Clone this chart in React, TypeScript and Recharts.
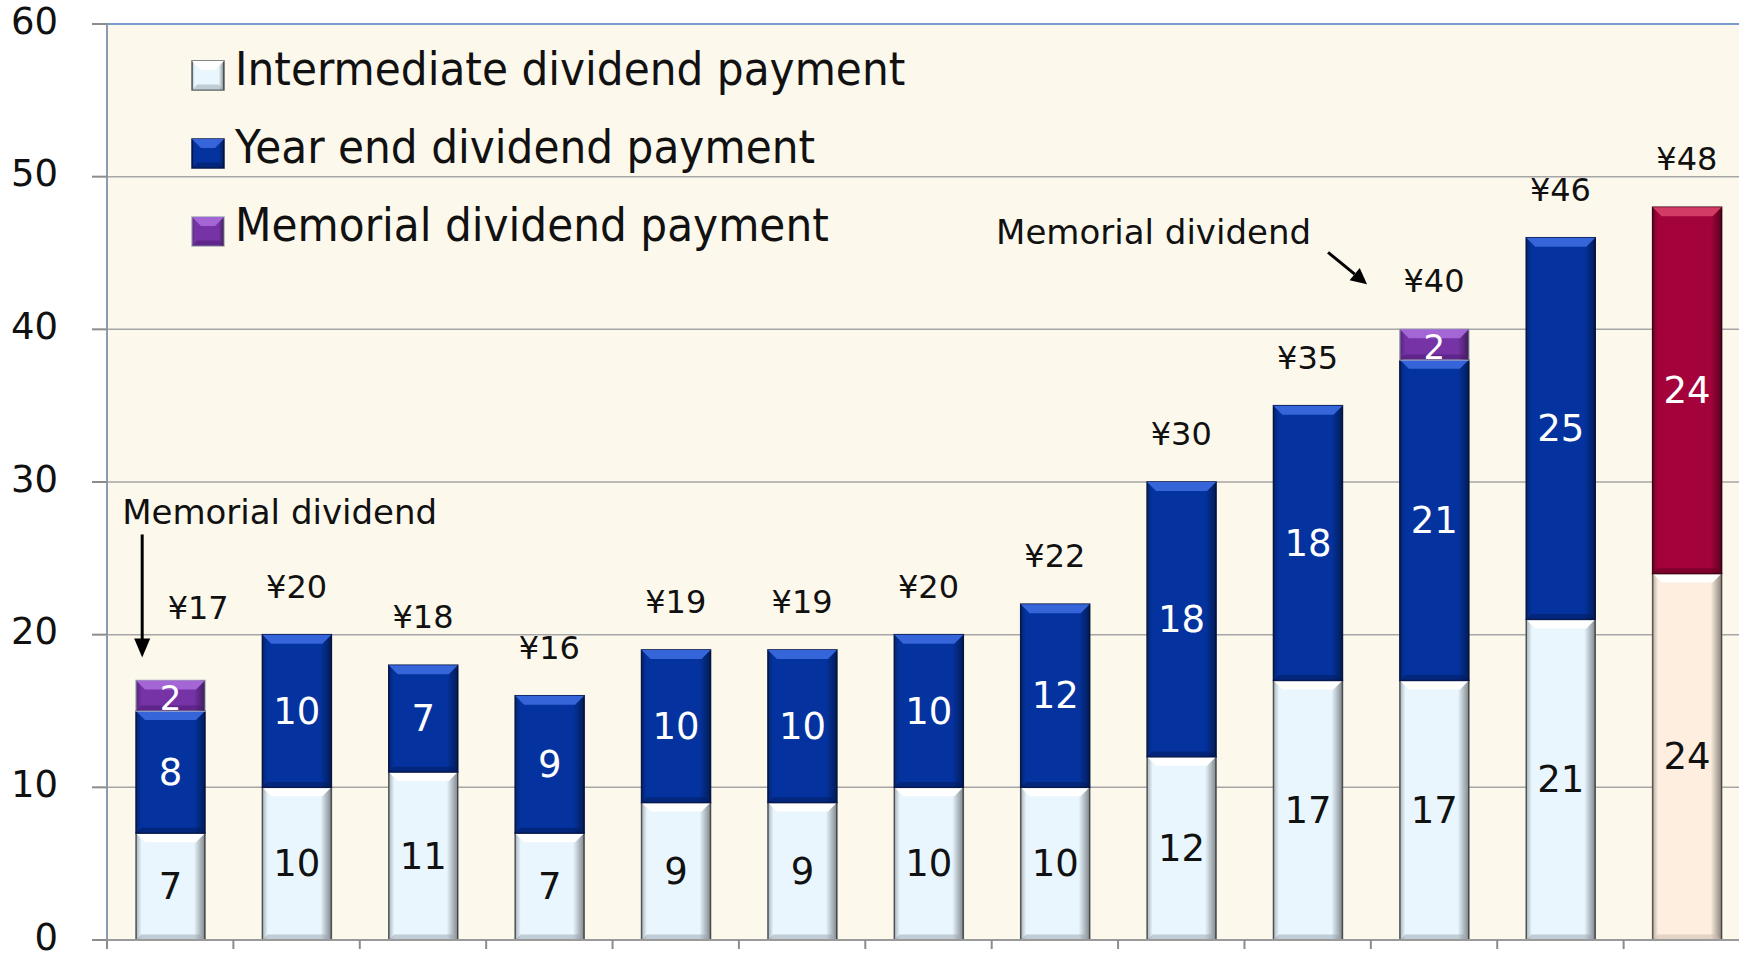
import {
  BarChart,
  Bar,
  XAxis,
  YAxis,
  CartesianGrid,
  LabelList,
  Legend,
  ReferenceDot,
  ReferenceLine,
} from "recharts";

const fiscalYears = [
  "FY2005", "FY2006", "FY2007", "FY2008", "FY2009", "FY2010", "FY2011",
  "FY2012", "FY2013", "FY2014", "FY2015", "FY2016", "FY2017",
];
const intermediateDividend = [7, 10, 11, 7, 9, 9, 10, 10, 12, 17, 17, 21, 24];
const yearEndDividend = [8, 10, 7, 9, 10, 10, 10, 12, 18, 18, 21, 25, 24];
const memorialDividend = [2, 0, 0, 0, 0, 0, 0, 0, 0, 0, 2, 0, 0];
const forecastYears = ["FY2017"];
const yTicks = [0, 10, 20, 30, 40, 50, 60];
const legendLabels = [
  "Intermediate dividend payment",
  "Year end dividend payment",
  "Memorial dividend payment",
];
const memorialNote = "Memorial dividend";
const downNoteYear = "FY2005";
const diagonalNoteYear = "FY2015";

const data = fiscalYears.map((fy, i) => ({
  fy,
  intermediate: intermediateDividend[i],
  yearEnd: yearEndDividend[i],
  memorial: memorialDividend[i],
  total: intermediateDividend[i] + yearEndDividend[i] + memorialDividend[i],
}));

const FONT = "'DejaVu Sans', Verdana, sans-serif";

const palettes: Record<string, { base: string; edge: string; hi: string; lo: string }> = {
  intermediate: { base: "#E9F6FE", edge: "#5c6166", hi: "#ffffff", lo: "#9aa4ad" },
  yearEnd: { base: "#04339F", edge: "#0a1a4c", hi: "#3565d8", lo: "#021a5c" },
  memorial: { base: "#7533A6", edge: "#a4adbf", hi: "#a466d4", lo: "#4b176f" },
  fcIntermediate: { base: "#FDEEE0", edge: "#66605b", hi: "#ffffff", lo: "#c9b9aa" },
  fcYearEnd: { base: "#A3033A", edge: "#420718", hi: "#d23b64", lo: "#5c0020" },
};

function pickPalette(kind: string, fy: string) {
  if (forecastYears.includes(fy)) {
    if (kind === "intermediate") return palettes.fcIntermediate;
    if (kind === "yearEnd") return palettes.fcYearEnd;
  }
  return palettes[kind];
}

function BevelRect({ x, y, w, h, p }: any) {
  const b = Math.min(9, h / 3);
  return (
    <g>
      <rect x={x} y={y} width={w} height={h} fill={p.base} stroke={p.edge} strokeWidth={1.5} />
      <rect x={x} y={y} width={w} height={h} fill="url(#sideShade)" />
      <polygon
        points={`${x},${y} ${x + w},${y} ${x + w - b},${y + b} ${x + b},${y + b}`}
        fill={p.hi}
      />
      <polygon
        points={`${x},${y + h} ${x + w},${y + h} ${x + w - b * 0.6},${y + h - b * 0.6} ${x + b * 0.6},${y + h - b * 0.6}`}
        fill={p.lo}
        opacity={0.5}
      />
    </g>
  );
}

function makeShape(kind: string) {
  return (props: any) => {
    const { x, y, width, height } = props;
    if (!height || height <= 0.5) return null;
    const fy = props.payload?.fy ?? props.fy;
    return <BevelRect x={x} y={y} w={width} h={height} p={pickPalette(kind, fy)} />;
  };
}

function segmentLabel(color: string, size: number, dy = 0) {
  return (props: any) => {
    const { x, y, width, height, value } = props;
    if (!value) return null;
    return (
      <text
        x={x + width / 2}
        y={y + height / 2 + dy}
        textAnchor="middle"
        dominantBaseline="central"
        fontFamily={FONT}
        fontSize={size}
        fill={color}
      >
        {value}
      </text>
    );
  };
}

const TotalLabel = (props: any) => {
  const { cx, cy, value, shiftX = 0, lift = 48 } = props;
  return (
    <text
      x={cx + shiftX}
      y={cy - lift}
      textAnchor="middle"
      dominantBaseline="central"
      fontFamily={FONT}
      fontSize={32}
      fill="#111"
    >
      {`¥${value}`}
    </text>
  );
};

const NoteDown = (props: any) => {
  const { cx, cy } = props;
  const ax = cx - 28;
  return (
    <g>
      <text x={cx - 48} y={cy - 168} dominantBaseline="central" fontFamily={FONT} fontSize={34} fill="#111">
        {memorialNote}
      </text>
      <line x1={ax} y1={cy - 146} x2={ax} y2={cy - 40} stroke="#000" strokeWidth={3} />
      <polygon points={`${ax - 8},${cy - 42} ${ax + 8},${cy - 42} ${ax},${cy - 23}`} fill="#000" />
    </g>
  );
};

const NoteDiagonal = (props: any) => {
  const { cx, cy } = props;
  const x1 = cx - 106, y1 = cy - 77, x2 = cx - 67, y2 = cy - 45;
  const ang = Math.atan2(y2 - y1, x2 - x1);
  const bx = x2 - 16 * Math.cos(ang), by = y2 - 16 * Math.sin(ang);
  const nx = -Math.sin(ang) * 8, ny = Math.cos(ang) * 8;
  return (
    <g>
      <text x={cx - 123} y={cy - 97} textAnchor="end" dominantBaseline="central" fontFamily={FONT} fontSize={34} fill="#111">
        {memorialNote}
      </text>
      <line x1={x1} y1={y1} x2={bx} y2={by} stroke="#000" strokeWidth={3} />
      <polygon points={`${bx + nx},${by + ny} ${bx - nx},${by - ny} ${x2},${y2}`} fill="#000" />
    </g>
  );
};

const BoundaryTick = (props: any) => {
  const { x, y, payload } = props;
  const half = payload?.offset ?? 63.2;
  return <line x1={x - half} x2={x - half} y1={y} y2={y + 9} stroke="#8c8c8c" strokeWidth={2} />;
};

const ValueTick = (props: any) => {
  const { x, y, payload } = props;
  return (
    <text x={x} y={y - 3} textAnchor="end" dominantBaseline="central" fontFamily={FONT} fontSize={37} fill="#111">
      {payload.value}
    </text>
  );
};

const legendKinds = ["intermediate", "yearEnd", "memorial"];

const LegendBox = () => (
  <svg width={960} height={260} style={{ display: "block" }}>
    {legendLabels.map((label, i) => {
      const cy = 69 + i * 78;
      const p = palettes[legendKinds[i]];
      return (
        <g key={label}>
          <BevelRect x={192} y={cy - 8} w={32} h={29} p={p} />
          <g transform={`translate(235,0) scale(0.92,1)`}>
            <text x={0} y={cy} dominantBaseline="central" fontFamily={FONT} fontSize={46} fill="#111">
              {label}
            </text>
          </g>
        </g>
      );
    })}
  </svg>
);

export default function App() {
  return (
    <div
      style={{
        position: "absolute",
        left: 0,
        top: 0,
        width: 1739,
        height: 953,
        overflow: "hidden",
        background: "#ffffff",
      }}
    >
      <BarChart
        width={1750}
        height={953}
        data={data}
        margin={{ top: 24, right: 0, bottom: 0, left: 0 }}
        barSize={69}
      >
        <defs>
          <linearGradient id="sideShade" x1="0" y1="0" x2="1" y2="0">
            <stop offset="0" stopColor="#000" stopOpacity={0.28} />
            <stop offset="0.08" stopColor="#000" stopOpacity={0} />
            <stop offset="0.84" stopColor="#000" stopOpacity={0} />
            <stop offset="1" stopColor="#000" stopOpacity={0.45} />
          </linearGradient>
        </defs>
        <CartesianGrid vertical={false} fill="#FDF8EC" stroke="#a6a6a6" strokeWidth={1.5} />
        <XAxis
          dataKey="fy"
          height={13}
          tickLine={false}
          tickSize={0}
          tickMargin={0}
          tick={<BoundaryTick />}
          interval={0}
          axisLine={{ stroke: "#9a9a9a", strokeWidth: 2 }}
        />
        <YAxis
          width={107}
          domain={[0, 60]}
          ticks={yTicks}
          interval={0}
          tickSize={15}
          tickMargin={34}
          axisLine={{ stroke: "#8c9ab3", strokeWidth: 2 }}
          tickLine={{ stroke: "#8c8c8c", strokeWidth: 2 }}
          tick={<ValueTick />}
        />
        <ReferenceLine y={60} stroke="#7b9bd0" strokeWidth={2} />
        <Legend
          layout="vertical"
          align="center"
          verticalAlign="middle"
          wrapperStyle={{ left: 0, top: 0, width: 960, height: 260 }}
          content={() => <LegendBox />}
        />
        <Bar dataKey="intermediate" stackId="d" isAnimationActive={false} shape={makeShape("intermediate")}>
          <LabelList dataKey="intermediate" content={segmentLabel("#111", 37)} />
        </Bar>
        <Bar dataKey="yearEnd" stackId="d" isAnimationActive={false} shape={makeShape("yearEnd")}>
          <LabelList dataKey="yearEnd" content={segmentLabel("#ffffff", 37)} />
        </Bar>
        <Bar dataKey="memorial" stackId="d" isAnimationActive={false} shape={makeShape("memorial")}>
          <LabelList dataKey="memorial" content={segmentLabel("#ffffff", 34, 2)} />
        </Bar>
        {data.map((d) => (
          <ReferenceDot
            key={d.fy}
            x={d.fy}
            y={d.total}
            r={0}
            shape={(p: any) =>
              d.fy === downNoteYear ? (
                <TotalLabel {...p} value={d.total} shiftX={28} lift={72} />
              ) : (
                <TotalLabel {...p} value={d.total} />
              )
            }
          />
        ))}
        <ReferenceDot x={downNoteYear} y={data[fiscalYears.indexOf(downNoteYear)].total} r={0} shape={(p: any) => <NoteDown {...p} />} />
        <ReferenceDot x={diagonalNoteYear} y={data[fiscalYears.indexOf(diagonalNoteYear)].total} r={0} shape={(p: any) => <NoteDiagonal {...p} />} />
      </BarChart>
    </div>
  );
}
